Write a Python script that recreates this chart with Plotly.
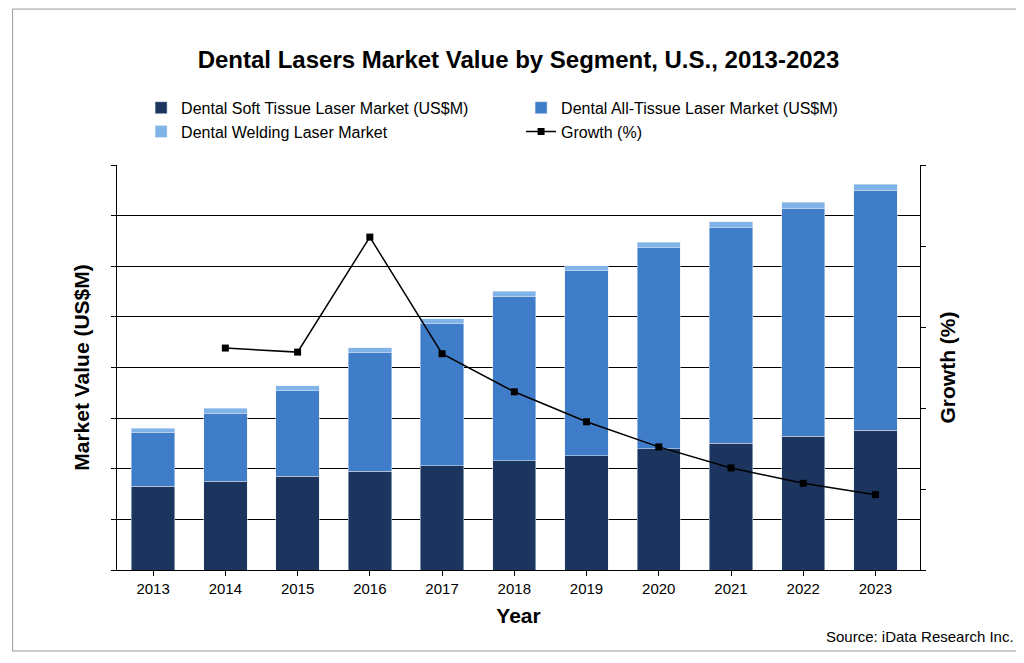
import plotly.graph_objects as go

years = ["2013","2014","2015","2016","2017","2018","2019","2020","2021","2022","2023"]
soft = [1.65,1.75,1.85,1.95,2.06,2.16,2.26,2.40,2.50,2.64,2.76]
alltissue = [1.07,1.35,1.69,2.34,2.80,3.25,3.65,3.97,4.26,4.50,4.74]
welding = [0.08,0.10,0.10,0.10,0.10,0.10,0.10,0.10,0.12,0.12,0.12]
growth_years = years[1:]
growth = [2.74,2.69,4.11,2.67,2.20,1.83,1.52,1.26,1.07,0.93]

fig = go.Figure()
fig.add_bar(x=years, y=soft, name="Dental Soft Tissue Laser Market (US$M)", marker_color="#1b355f")
fig.add_bar(x=years, y=alltissue, name="Dental All-Tissue Laser Market (US$M)", marker_color="#3f7dc8")
fig.add_bar(x=years, y=welding, name="Dental Welding Laser Market", marker_color="#80b3e8")
fig.add_scatter(x=growth_years, y=growth, name="Growth (%)", yaxis="y2", mode="lines+markers",
                line=dict(color="black", width=1.5), marker=dict(symbol="square", size=7, color="black"))

fig.update_layout(
    width=1024, height=663, barmode="stack", bargap=0.4,
    paper_bgcolor="white", plot_bgcolor="white",
    font=dict(family="Arial, Liberation Sans", color="black", size=15),
    title=dict(text="<b>Dental Lasers Market Value by Segment, U.S., 2013-2023</b>", x=0.5, xref="paper",
               y=0.935, xanchor="center", font=dict(size=24)),
    margin=dict(l=109, r=112, t=157, b=101, autoexpand=False),
    legend=dict(orientation="h", x=0.03, y=1.04, xanchor="left", yanchor="bottom", font=dict(size=16),
                traceorder="normal", entrywidth=335, tracegroupgap=0, itemwidth=30),
    xaxis=dict(title=dict(text="<b>Year</b>", font=dict(size=21), standoff=12), showline=True, linecolor="black",
               ticks="outside", tickcolor="black", ticklen=5),
    yaxis=dict(title=dict(text="<b>Market Value (US$M)</b>", font=dict(size=21)), range=[0,8], dtick=1,
               showgrid=True, gridcolor="black", gridwidth=1, showticklabels=False,
               showline=True, linecolor="black", ticks="outside", tickcolor="black", ticklen=5, zeroline=False),
    yaxis2=dict(title=dict(text="<b>Growth (%)</b>", font=dict(size=21)), overlaying="y", side="right", range=[0,5], dtick=1,
                showgrid=False, showticklabels=False, showline=True, linecolor="black",
                ticks="outside", tickcolor="black", ticklen=5, zeroline=False),
    shapes=[dict(type="rect", xref="paper", yref="paper", x0=-0.13, x1=1.13, y0=-0.2, y1=1.385,
                 line=dict(color="#999", width=1))],
    annotations=[dict(text="Source: iData Research Inc.", xref="paper", yref="paper", x=1.12, y=-0.19,
                      xanchor="right", yanchor="bottom", showarrow=False, font=dict(size=15))],
)
fig.write_html("out.html")
